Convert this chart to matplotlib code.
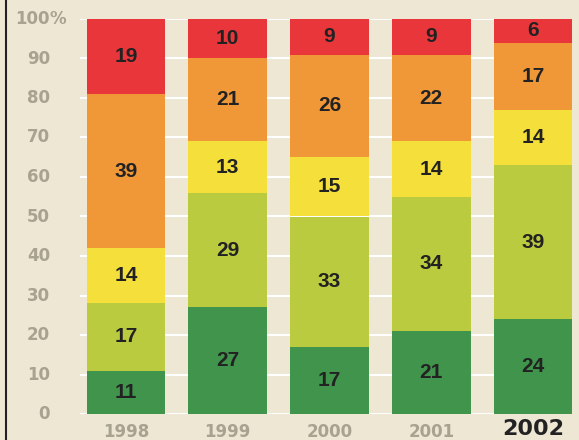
import numpy as np
import matplotlib
matplotlib.use("Agg")
import matplotlib.pyplot as plt
from matplotlib.transforms import blended_transform_factory

years = ["1998", "1999", "2000", "2001", "2002"]
dark_green = [11, 27, 17, 21, 24]
light_green = [17, 29, 33, 34, 39]
yellow = [14, 13, 15, 14, 14]
orange = [39, 21, 26, 22, 17]
red = [19, 10, 9, 9, 6]
ytick_labels = ["0", "10", "20", "30", "40", "50", "60", "70", "80", "90", "100"]

series = [dark_green, light_green, yellow, orange, red]
colors = ["#40944b", "#bbcb3f", "#f5df3a", "#f09838", "#e8363a"]
bg = "#ede7d4"
gray = "#a8a390"

fig = plt.figure(figsize=(5.79, 4.40), dpi=100, facecolor=bg)
ax = fig.add_axes([80 / 579, 1 - 414 / 440, 499 / 579, 395 / 440])
ax.set_facecolor(bg)

x = np.arange(len(years))
ax.set_xlim(-0.45, 4.45)
ax.set_ylim(0, 100)

ticks = np.arange(0, 101, 10)
ax.hlines(ticks, -0.45, 4.25, color="white", lw=1.5, zorder=1)

bottom = np.zeros(len(years))
for vals, c in zip(series, colors):
    vals = np.array(vals)
    ax.bar(x, vals, bottom=bottom, width=0.77, color=c, zorder=2)
    for xi, b, v in zip(x, bottom, vals):
        ax.text(xi, b + v / 2, str(v), ha="center", va="center",
                fontsize=15, fontweight="bold", family="Liberation Sans",
                color="#222222", zorder=3)
    bottom += vals

for s in ax.spines.values():
    s.set_visible(False)
ax.tick_params(length=0)
ax.set_yticks([])
ax.set_xticks([])

# y labels: right aligned numbers, "%" hanging after 100
trans = blended_transform_factory(fig.transFigure, ax.transData)
for t, lab in zip(ticks, ytick_labels):
    ax.text(50 / 579, t, lab, transform=trans, ha="right", va="center",
            fontsize=12, fontweight="bold", color=gray)
ax.text(50 / 579, 100, "%", transform=trans, ha="left", va="center",
        fontsize=12, fontweight="bold", color=gray)

# year labels, the last one highlighted
xtrans = blended_transform_factory(ax.transData, fig.transFigure)
for xi, yr in zip(x[:-1], years[:-1]):
    ax.text(xi, 1 - 432 / 440, yr, transform=xtrans, ha="center", va="center",
            fontsize=12, fontweight="bold", color=gray)
ax.text(x[-1], 1 / 440, years[-1], transform=xtrans, ha="center", va="bottom",
        fontsize=16, fontweight="bold", color="#222222")

fig.add_artist(plt.Line2D([6 / 579, 6 / 579], [0, 1], color="#222222", lw=1.5))

fig.savefig("out.png", dpi=100, facecolor=bg)
